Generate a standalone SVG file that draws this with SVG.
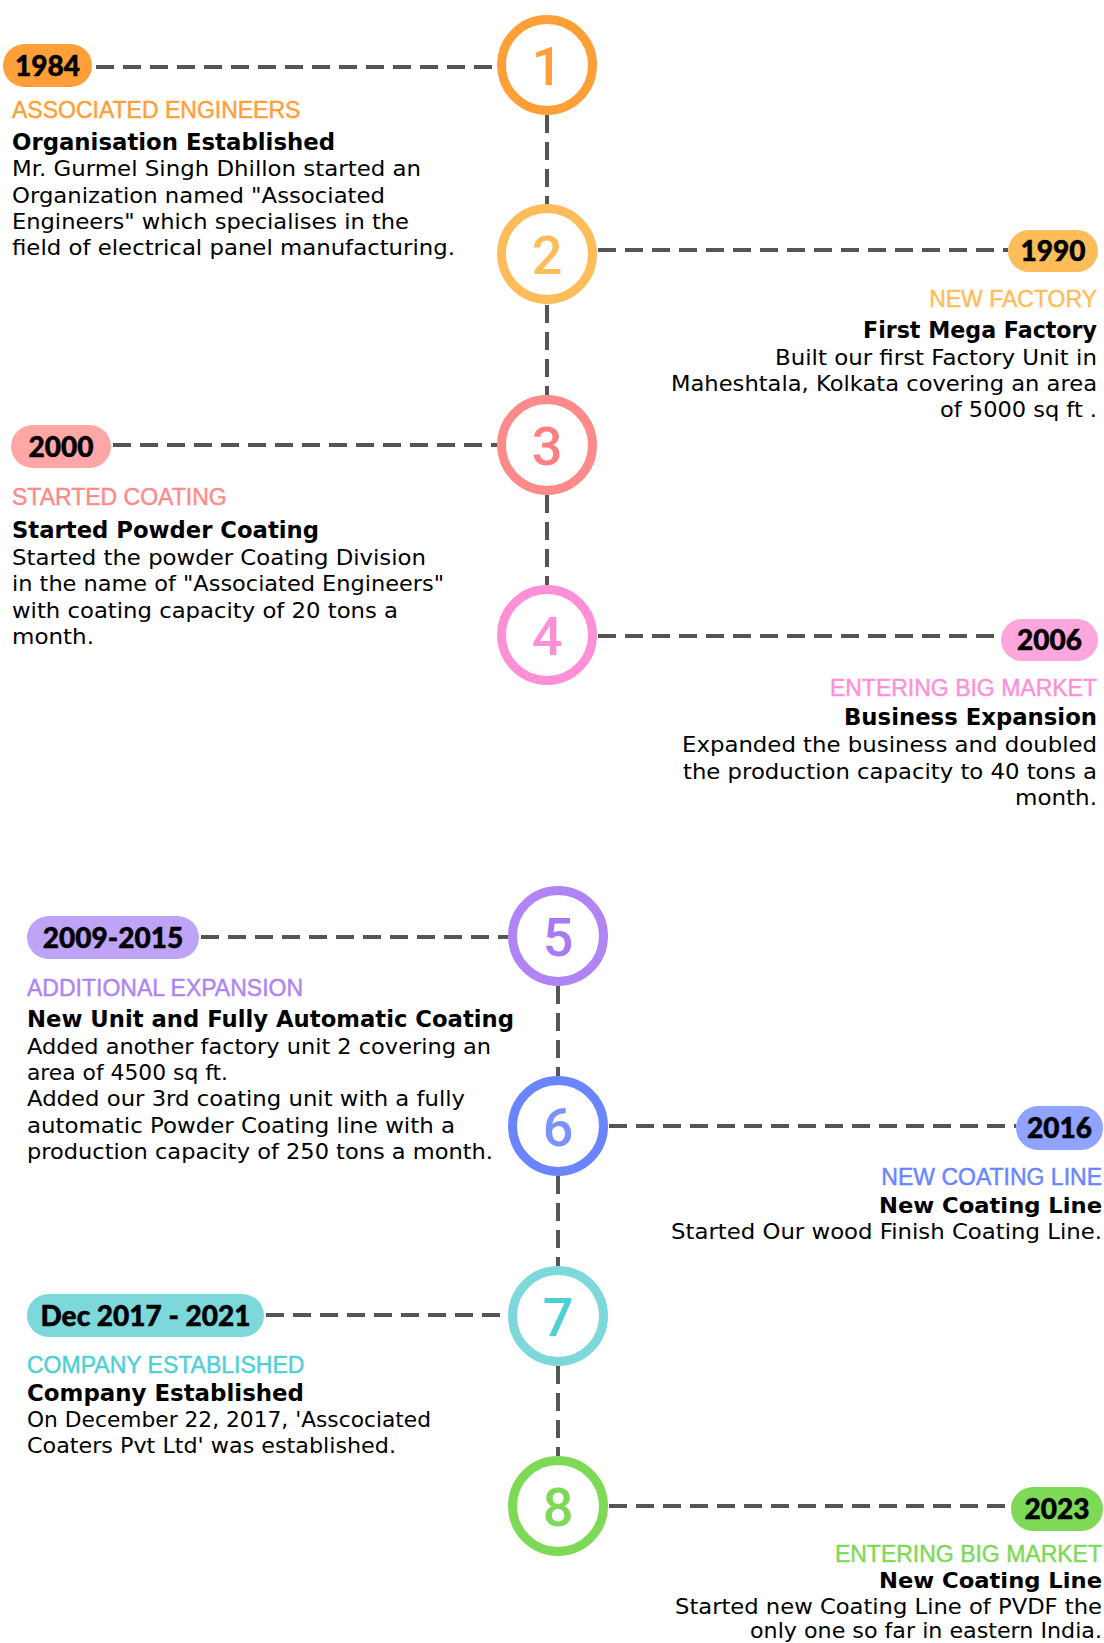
<svg xmlns="http://www.w3.org/2000/svg" width="1104" height="1643" viewBox="0 0 1104 1643">
<style>
.bg{fill:#ffffff}
.dash{stroke:#555555;stroke-width:4;stroke-dasharray:18 9;fill:none}
.ring{fill:#ffffff;stroke-width:9}
.num{font-family:Roboto,"Liberation Sans",Arial,sans-serif;font-weight:500;font-size:54px;text-anchor:middle}
.pill-t{font-family:Lato,"Noto Sans",sans-serif;font-weight:900;font-size:28px;fill:#000000;text-anchor:middle;stroke:#000000;stroke-width:0.5}
.cap{font-family:"Liberation Sans",Arial,sans-serif;font-size:23px;stroke-width:0.45}
.ttl{font-family:"DejaVu Sans",Lato,sans-serif;font-weight:700;font-size:23.5px;fill:#000000}
.ttl-s{font-size:20.7px}
.body{font-family:"DejaVu Sans",Lato,sans-serif;font-size:21px;fill:#000000}
.r{text-anchor:end}
</style>
<rect class="bg" x="0" y="0" width="1104" height="1643"/>
<g id="connectors">
<line class="dash" x1="96" y1="67" x2="497" y2="67"/>
<line class="dash" x1="547" y1="115" x2="547" y2="205"/>
<line class="dash" x1="598" y1="250" x2="1008" y2="250"/>
<line class="dash" x1="547" y1="305" x2="547" y2="395"/>
<line class="dash" x1="113" y1="445" x2="497" y2="445"/>
<line class="dash" x1="547" y1="495" x2="547" y2="585"/>
<line class="dash" x1="598" y1="636" x2="1001" y2="636"/>
<line class="dash" x1="201" y1="937" x2="508" y2="937"/>
<line class="dash" x1="558" y1="986" x2="558" y2="1076"/>
<line class="dash" x1="609" y1="1126" x2="1016" y2="1126"/>
<line class="dash" x1="558" y1="1176" x2="558" y2="1266"/>
<line class="dash" x1="266" y1="1315" x2="508" y2="1315"/>
<line class="dash" x1="558" y1="1366" x2="558" y2="1456"/>
<line class="dash" x1="609" y1="1506" x2="1011" y2="1506"/>
</g>
<g id="node1">
<circle class="ring" cx="547" cy="65" r="45.5" stroke="#FF9F38"/>
<text class="num" x="547" y="84.5" fill="#FF9F38">1</text>
<rect x="3" y="44" width="89" height="43" rx="21.5" fill="#FF9F38"/>
<text class="pill-t" x="47.5" y="76">1984</text>
<text class="cap" x="12" y="118" fill="#FF9F38" stroke="#FF9F38">ASSOCIATED ENGINEERS</text>
<text class="ttl" x="12" y="150" textLength="323" lengthAdjust="spacingAndGlyphs">Organisation Established</text>
<text class="body" x="12" y="176" textLength="409" lengthAdjust="spacingAndGlyphs">Mr. Gurmel Singh Dhillon started an</text>
<text class="body" x="12" y="203" textLength="373" lengthAdjust="spacingAndGlyphs">Organization named "Associated</text>
<text class="body" x="12" y="229" textLength="397" lengthAdjust="spacingAndGlyphs">Engineers" which specialises in the</text>
<text class="body" x="12" y="255" textLength="443" lengthAdjust="spacingAndGlyphs">field of electrical panel manufacturing.</text>
</g>
<g id="node2">
<circle class="ring" cx="547" cy="254" r="45.5" stroke="#FFBD59"/>
<text class="num" x="547" y="273.5" fill="#FFBD59">2</text>
<rect x="1008" y="230" width="90" height="42" rx="21" fill="#FFBD59"/>
<text class="pill-t" x="1053" y="261">1990</text>
<text class="cap r" x="1097" y="307" fill="#FFBD59" stroke="#FFBD59">NEW FACTORY</text>
<text class="ttl r" x="1097" y="338" font-size="21.2" textLength="234" lengthAdjust="spacingAndGlyphs">First Mega Factory</text>
<text class="body r" x="1097" y="365" textLength="322" lengthAdjust="spacingAndGlyphs">Built our first Factory Unit in</text>
<text class="body r" x="1097" y="391" textLength="426" lengthAdjust="spacingAndGlyphs">Maheshtala, Kolkata covering an area</text>
<text class="body r" x="1097" y="417" textLength="157" lengthAdjust="spacingAndGlyphs">of 5000 sq ft .</text>
</g>
<g id="node3">
<circle class="ring" cx="547" cy="445" r="45.5" stroke="#FF8A8A"/>
<text class="num" x="547" y="464.5" fill="#FF8080">3</text>
<rect x="11" y="425" width="100" height="43" rx="21.5" fill="#FFA6A6"/>
<text class="pill-t" x="61" y="457">2000</text>
<text class="cap" x="12" y="505" fill="#FF8A8A" stroke="#FF8A8A">STARTED COATING</text>
<text class="ttl" x="12" y="538" textLength="307" lengthAdjust="spacingAndGlyphs">Started Powder Coating</text>
<text class="body" x="12" y="565" textLength="414" lengthAdjust="spacingAndGlyphs">Started the powder Coating Division</text>
<text class="body" x="12" y="591" textLength="432" lengthAdjust="spacingAndGlyphs">in the name of "Associated Engineers"</text>
<text class="body" x="12" y="618" textLength="386" lengthAdjust="spacingAndGlyphs">with coating capacity of 20 tons a</text>
<text class="body" x="12" y="644" textLength="82" lengthAdjust="spacingAndGlyphs">month.</text>
</g>
<g id="node4">
<circle class="ring" cx="547" cy="635" r="45.5" stroke="#FF8FD6"/>
<text class="num" x="547" y="654.5" fill="#FF8FD6">4</text>
<rect x="1001" y="619" width="97" height="42" rx="21" fill="#FFA6DC"/>
<text class="pill-t" x="1049.5" y="650">2006</text>
<text class="cap r" x="1097" y="696" fill="#FF90D8" stroke="#FF90D8">ENTERING BIG MARKET</text>
<text class="ttl r" x="1097" y="725" font-size="23.2" textLength="253" lengthAdjust="spacingAndGlyphs">Business Expansion</text>
<text class="body r" x="1097" y="752" textLength="415" lengthAdjust="spacingAndGlyphs">Expanded the business and doubled</text>
<text class="body r" x="1097" y="779" textLength="414" lengthAdjust="spacingAndGlyphs">the production capacity to 40 tons a</text>
<text class="body r" x="1097" y="805" textLength="82" lengthAdjust="spacingAndGlyphs">month.</text>
</g>
<g id="node5">
<circle class="ring" cx="558" cy="936" r="45.5" stroke="#B084F5"/>
<text class="num" x="558" y="955.5" fill="#A57AF2">5</text>
<rect x="27" y="916" width="172" height="43" rx="21.5" fill="#BFA3F7"/>
<text class="pill-t" x="113" y="948">2009-2015</text>
<text class="cap" x="27" y="996" fill="#B084F5" stroke="#B084F5">ADDITIONAL EXPANSION</text>
<text class="ttl" x="27" y="1027" textLength="487" lengthAdjust="spacingAndGlyphs">New Unit and Fully Automatic Coating</text>
<text class="body" x="27" y="1054" textLength="464" lengthAdjust="spacingAndGlyphs">Added another factory unit 2 covering an</text>
<text class="body" x="27" y="1080" textLength="201" lengthAdjust="spacingAndGlyphs">area of 4500 sq ft.</text>
<text class="body" x="27" y="1106" textLength="438" lengthAdjust="spacingAndGlyphs">Added our 3rd coating unit with a fully</text>
<text class="body" x="27" y="1133" textLength="428" lengthAdjust="spacingAndGlyphs">automatic Powder Coating line with a</text>
<text class="body" x="27" y="1159" textLength="466" lengthAdjust="spacingAndGlyphs">production capacity of 250 tons a month.</text>
</g>
<g id="node6">
<circle class="ring" cx="558" cy="1126" r="45.5" stroke="#6A85FF"/>
<text class="num" x="558" y="1145.5" fill="#7B93FF">6</text>
<rect x="1016" y="1106" width="87" height="44" rx="22" fill="#8FA3FF"/>
<text class="pill-t" x="1059.5" y="1138">2016</text>
<text class="cap r" x="1102" y="1185" fill="#6A85FF" stroke="#6A85FF">NEW COATING LINE</text>
<text class="ttl ttl-s r" x="1102" y="1213" textLength="223" lengthAdjust="spacingAndGlyphs">New Coating Line</text>
<text class="body r" x="1102" y="1239" textLength="431" lengthAdjust="spacingAndGlyphs">Started Our wood Finish Coating Line.</text>
</g>
<g id="node7">
<circle class="ring" cx="558" cy="1316" r="45.5" stroke="#7ED8DB"/>
<text class="num" x="558" y="1335.5" fill="#4CCFD6">7</text>
<rect x="27" y="1294" width="237" height="43" rx="21.5" fill="#7DD8DC"/>
<text class="pill-t" x="145.5" y="1326">Dec 2017 - 2021</text>
<text class="cap" x="27" y="1373" fill="#4FCFD6" stroke="#4FCFD6">COMPANY ESTABLISHED</text>
<text class="ttl" x="27" y="1401" textLength="277" lengthAdjust="spacingAndGlyphs">Company Established</text>
<text class="body" x="27" y="1427" textLength="404" lengthAdjust="spacingAndGlyphs">On December 22, 2017, 'Asscociated</text>
<text class="body" x="27" y="1453" textLength="369" lengthAdjust="spacingAndGlyphs">Coaters Pvt Ltd' was established.</text>
</g>
<g id="node8">
<circle class="ring" cx="558" cy="1506" r="45.5" stroke="#7ED957"/>
<text class="num" x="558" y="1525.5" fill="#7ED957">8</text>
<rect x="1011" y="1487" width="92" height="44" rx="22" fill="#7ED957"/>
<text class="pill-t" x="1057" y="1519">2023</text>
<text class="cap r" x="1102" y="1562" fill="#7ED957" stroke="#7ED957">ENTERING BIG MARKET</text>
<text class="ttl ttl-s r" x="1102" y="1588" textLength="223" lengthAdjust="spacingAndGlyphs">New Coating Line</text>
<text class="body r" x="1102" y="1614" textLength="427" lengthAdjust="spacingAndGlyphs">Started new Coating Line of PVDF the</text>
<text class="body r" x="1102" y="1638" textLength="352" lengthAdjust="spacingAndGlyphs">only one so far in eastern India.</text>
</g>
</svg>
